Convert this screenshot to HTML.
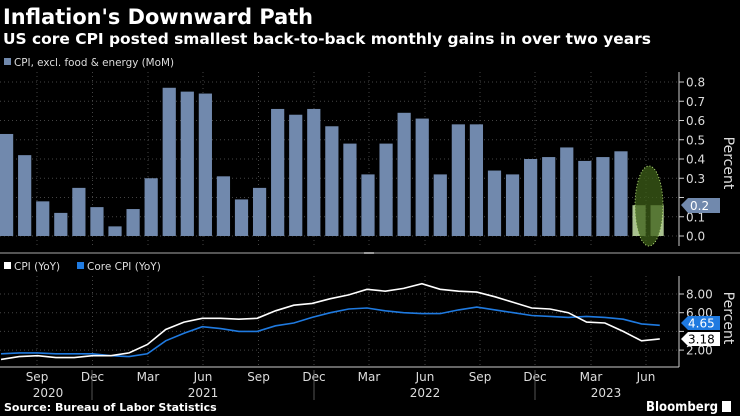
<!DOCTYPE html>
<html><head><meta charset="utf-8"><style>
html,body{margin:0;padding:0;background:#000;width:740px;height:416px;overflow:hidden}
svg{display:block;font-family:"DejaVu Sans","Liberation Sans",sans-serif}
</style></head><body>
<svg id="s" width="740" height="416" viewBox="0 0 740 416" xmlns="http://www.w3.org/2000/svg">
<rect width="740" height="416" fill="#000"/>
<text x="3" y="24" fill="#fff" font-size="21" font-weight="bold" textLength="310" lengthAdjust="spacingAndGlyphs">Inflation's Downward Path</text>
<text x="3" y="44" fill="#fff" font-size="15" font-weight="bold" textLength="648" lengthAdjust="spacingAndGlyphs">US core CPI posted smallest back-to-back monthly gains in over two years</text>
<rect x="4" y="58" width="7" height="7" fill="#7189ad"/>
<text x="14" y="66" fill="#ddd" font-size="10.5" textLength="160" lengthAdjust="spacingAndGlyphs">CPI, excl. food &amp; energy (MoM)</text>
<g id="gtop"></g>
<line x1="0" y1="253" x2="740" y2="253" stroke="#555" stroke-width="2"/>
<rect x="364" y="252" width="10" height="2" fill="#999"/>
<rect x="4" y="262" width="7" height="7" fill="#fff"/>
<text x="14" y="270" fill="#ddd" font-size="10.5">CPI (YoY)</text>
<rect x="77" y="262" width="7" height="7" fill="#1f7ae0"/>
<text x="87" y="270" fill="#ddd" font-size="10.5">Core CPI (YoY)</text>
<g id="gbot"></g>
<text x="4" y="411" fill="#fff" font-size="11" font-weight="bold">Source: Bureau of Labor Statistics</text>
<text x="646" y="411" fill="#fff" font-size="13" font-weight="bold" textLength="72" lengthAdjust="spacingAndGlyphs">Bloomberg</text>
<rect x="722" y="401" width="9" height="11" fill="#fff"/>
</svg>
<script>
(function(){
var NS="http://www.w3.org/2000/svg";
function el(p,t,a,txt){var e=document.createElementNS(NS,t);for(var k in a)e.setAttribute(k,a[k]);if(txt!=null)e.textContent=txt;p.appendChild(e);return e;}
var gt=document.getElementById("gtop"),gb=document.getElementById("gbot");
var gx=[37,92.5,148,203,258.5,314,369,425,480,535,591,646];
function ty(v){return 236-v*192.5;}
for(var i=0;i<=8;i++){var y=ty(i/10);el(gt,"line",{x1:0,x2:679,y1:y,y2:y,stroke:"#444","stroke-dasharray":"1,3"});
el(gt,"line",{x1:679,x2:684,y1:y,y2:y,stroke:"#ccc"});
if(i!=2)el(gt,"text",{x:686,y:y+4.5,fill:"#ddd","font-size":"12"},(i/10).toFixed(1));}
gx.forEach(function(x){el(gt,"line",{x1:x,x2:x,y1:72,y2:246,stroke:"#444","stroke-dasharray":"1,3"});});
var mom=[0.53,0.42,0.18,0.12,0.25,0.15,0.05,0.14,0.30,0.77,0.75,0.74,0.31,0.19,0.25,0.66,0.63,0.66,0.57,0.48,0.32,0.48,0.64,0.61,0.32,0.58,0.58,0.34,0.32,0.40,0.41,0.46,0.39,0.41,0.44,0.16,0.16];
mom.forEach(function(v,i){var x=18.07*i;el(gt,"rect",{x:x,y:ty(v),width:13.2,height:236-ty(v),fill:i>=35?"#a9c18f":"#7189ad"});});
el(gt,"ellipse",{cx:649,cy:206,rx:14,ry:40,fill:"#3d5f18","fill-opacity":"0.75",stroke:"#b6e07a","stroke-dasharray":"1,2"});
el(gt,"line",{x1:679,x2:679,y1:72,y2:246,stroke:"#ccc"});
el(gt,"path",{d:"M681 205 L688 198 L720 198 L720 213 L688 213 Z",fill:"#7189ad"});
el(gt,"text",{x:690,y:210,fill:"#fff","font-size":"12"},"0.2");
el(gt,"text",{x:0,y:0,fill:"#ddd","font-size":"14",transform:"translate(724,163) rotate(90)","text-anchor":"middle"},"Percent");
function by(v){return 294+(8-v)*9.35;}
[2,4,6,8].forEach(function(v){var y=by(v);el(gb,"line",{x1:0,x2:679,y1:y,y2:y,stroke:"#444","stroke-dasharray":"1,3"});el(gb,"line",{x1:679,x2:684,y1:y,y2:y,stroke:"#ccc"});});
[[8,"8.00"],[6,"6.00"],[2,"2.00"]].forEach(function(a){el(gb,"text",{x:686,y:by(a[0])+4.5,fill:"#ddd","font-size":"12"},a[1]);});
gx.forEach(function(x){el(gb,"line",{x1:x,x2:x,y1:276,y2:367,stroke:"#444","stroke-dasharray":"1,3"});});
el(gb,"line",{x1:679,x2:679,y1:276,y2:367,stroke:"#ccc"});
el(gb,"line",{x1:0,x2:679,y1:367,y2:367,stroke:"#ccc"});
var cpi=[1.0,1.3,1.4,1.2,1.2,1.4,1.4,1.7,2.6,4.2,5.0,5.4,5.4,5.3,5.4,6.2,6.8,7.0,7.5,7.9,8.5,8.3,8.6,9.1,8.5,8.3,8.2,7.7,7.1,6.5,6.4,6.0,5.0,4.9,4.0,3.0,3.2];
var core=[1.6,1.7,1.7,1.6,1.6,1.6,1.4,1.3,1.6,3.0,3.8,4.5,4.3,4.0,4.0,4.6,4.9,5.5,6.0,6.4,6.5,6.2,6.0,5.9,5.9,6.3,6.6,6.3,6.0,5.7,5.6,5.5,5.6,5.5,5.3,4.8,4.65];
function pts(d){return d.map(function(v,i){return (18.3*i+1).toFixed(1)+","+by(v).toFixed(1);}).join(" ");}
el(gb,"polyline",{points:pts(core),fill:"none",stroke:"#1f7ae0","stroke-width":"1.6"});
el(gb,"polyline",{points:pts(cpi),fill:"none",stroke:"#fff","stroke-width":"1.6"});
el(gb,"path",{d:"M681 323 L688 316 L720 316 L720 330 L688 330 Z",fill:"#1f7ae0"});
el(gb,"text",{x:688,y:327.5,fill:"#fff","font-size":"12"},"4.65");
el(gb,"path",{d:"M681 339 L688 332 L720 332 L720 346 L688 346 Z",fill:"#fff"});
el(gb,"text",{x:688,y:343.5,fill:"#000","font-size":"12"},"3.18");
el(gb,"text",{x:0,y:0,fill:"#ddd","font-size":"14",transform:"translate(724,318) rotate(90)","text-anchor":"middle"},"Percent");
var mn=["Sep","Dec","Mar","Jun","Sep","Dec","Mar","Jun","Sep","Dec","Mar","Jun"];
gx.forEach(function(x,i){el(gb,"text",{x:x,y:381,fill:"#ddd","font-size":"12","text-anchor":"middle"},mn[i]);});
[[48,"2020"],[203,"2021"],[425,"2022"],[606,"2023"]].forEach(function(a){el(gb,"text",{x:a[0],y:397,fill:"#ddd","font-size":"12","text-anchor":"middle"},a[1]);});
[92,314,535].forEach(function(x){el(gb,"line",{x1:x,x2:x,y1:370,y2:400,stroke:"#555"});});
})();
</script>
</body></html>
